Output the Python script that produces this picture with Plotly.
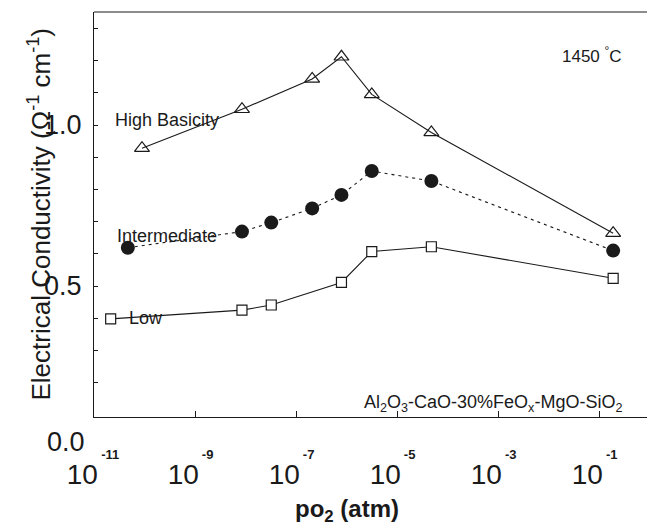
import numpy as np
import plotly.graph_objects as go

# log10(pO2 / atm) and conductivity values
high_logp = [-10.05, -8.07, -6.68, -6.10, -5.50, -4.32, -0.72]
high_cond = [0.928, 1.049, 1.143, 1.212, 1.095, 0.977, 0.664]

inter_logp = [-10.33, -8.07, -7.49, -6.68, -6.10, -5.50, -4.32, -0.72]
inter_cond = [0.619, 0.669, 0.697, 0.741, 0.783, 0.857, 0.826, 0.610]

low_logp = [-10.67, -8.07, -7.49, -6.10, -5.50, -4.32, -0.72]
low_cond = [0.398, 0.425, 0.441, 0.511, 0.607, 0.622, 0.524]

x_tick_exps = [-11, -9, -7, -5, -3, -1]
y_tick_vals = [0.2, 0.3, 0.4, 0.5, 0.6, 0.7, 0.8, 0.9, 1.0, 1.1, 1.2, 1.3]
y_tick_labeled = {0.5: "0.5", 1.0: "1.0"}

INK = "#1a1a1a"
FONT = "Liberation Sans, Arial, sans-serif"


def pow_label(e):
    exp = f"{e}"
    pad_sup = "&nbsp;" * (9 if len(exp) == 3 else 7)
    return (f"<span style='font-size:13px'><b>{pad_sup}{exp}</b></span><br>"
            f"<span style='font-size:28px'>10&nbsp;&nbsp;&nbsp;</span>")


fig = go.Figure()

fig.add_trace(go.Scatter(
    x=high_logp, y=high_cond, mode="lines+markers",
    line=dict(color=INK, width=1.1),
    marker=dict(symbol="triangle-up-open", size=13, color=INK, line=dict(width=1.2, color=INK)),
    showlegend=False))
fig.add_trace(go.Scatter(
    x=inter_logp, y=inter_cond, mode="lines+markers",
    line=dict(color=INK, width=1.1, dash="3px,4px"),
    marker=dict(symbol="circle", size=14, color=INK),
    showlegend=False))
fig.add_trace(go.Scatter(
    x=low_logp, y=low_cond, mode="lines+markers",
    line=dict(color=INK, width=1.1),
    marker=dict(symbol="square", size=10, color="white", line=dict(width=1.2, color=INK)),
    showlegend=False))

fig.update_layout(
    width=647, height=526,
    margin=dict(l=94, r=0, t=12, b=109),
    paper_bgcolor="white", plot_bgcolor="white",
    font=dict(family=FONT, color=INK),
    xaxis=dict(
        range=[-11, -0.05], showgrid=False, zeroline=False,
        showline=True, linecolor=INK, linewidth=1.2,
        ticks="inside", ticklen=6, tickcolor=INK,
        tickvals=x_tick_exps,
        ticktext=[pow_label(e) for e in x_tick_exps],
        tickfont=dict(size=19, color=INK),
        ticklabelstandoff=18,
    ),
    yaxis=dict(
        range=[0.0932, 1.351], showgrid=False, zeroline=False,
        showline=True, linecolor=INK, linewidth=1.2,
        ticks="inside", ticklen=4, tickcolor=INK,
        tickvals=y_tick_vals,
        ticktext=[y_tick_labeled.get(round(v, 1), "") for v in y_tick_vals],
        tickfont=dict(size=27, color=INK),
        ticklabelstandoff=6,
    ),
)

# top border line
fig.add_shape(type="line", xref="paper", yref="paper", x0=0, x1=1, y0=1, y1=1,
              line=dict(color=INK, width=1.2))

# stray 0.0 label below the axis box
fig.add_annotation(text="0.0", xref="paper", yref="paper", x=0, y=-(442 - 417) / 405, xshift=-7,
                   xanchor="right", yanchor="middle", showarrow=False,
                   font=dict(size=27, color=INK))

# axis titles
fig.add_annotation(text="Electrical Conductivity (Ω<sup>-1</sup> cm<sup>-1</sup>)",
                   xref="paper", yref="paper", x=(40 - 94) / 553, y=0.50,
                   textangle=-90, xanchor="center", yanchor="middle", showarrow=False,
                   font=dict(size=26, color=INK))
fig.add_annotation(text="<b>po<sub>2</sub> (atm)</b>",
                   xref="paper", yref="paper", x=(347 - 94) / 553, y=-(510 - 417) / 405,
                   xanchor="center", yanchor="middle", showarrow=False,
                   font=dict(size=24, color=INK))

# series labels
fig.add_annotation(text="High Basicity", x=-10.62, y=1.016, xanchor="left", yanchor="middle",
                   showarrow=False, font=dict(size=18, color=INK))
fig.add_annotation(text="Intermediate", x=-10.58, y=0.655, xanchor="left", yanchor="middle",
                   showarrow=False, font=dict(size=18, color=INK))
fig.add_annotation(text="Low", x=-10.35, y=0.40, xanchor="left", yanchor="middle",
                   showarrow=False, font=dict(size=18, color=INK))
fig.add_annotation(text="1450 <sup>°</sup>C", x=-0.505, y=1.217, xanchor="right", yanchor="middle",
                   showarrow=False, font=dict(size=17, color=INK))
fig.add_annotation(text="Al<sub>2</sub>O<sub>3</sub>-CaO-30%FeO<sub>x</sub>-MgO-SiO<sub>2</sub>",
                   xref="paper", yref="paper", x=(493 - 94) / 553, y=(417 - 403) / 405,
                   xanchor="center", yanchor="middle", showarrow=False,
                   font=dict(size=18, color=INK))

fig.write_html("out.html")
